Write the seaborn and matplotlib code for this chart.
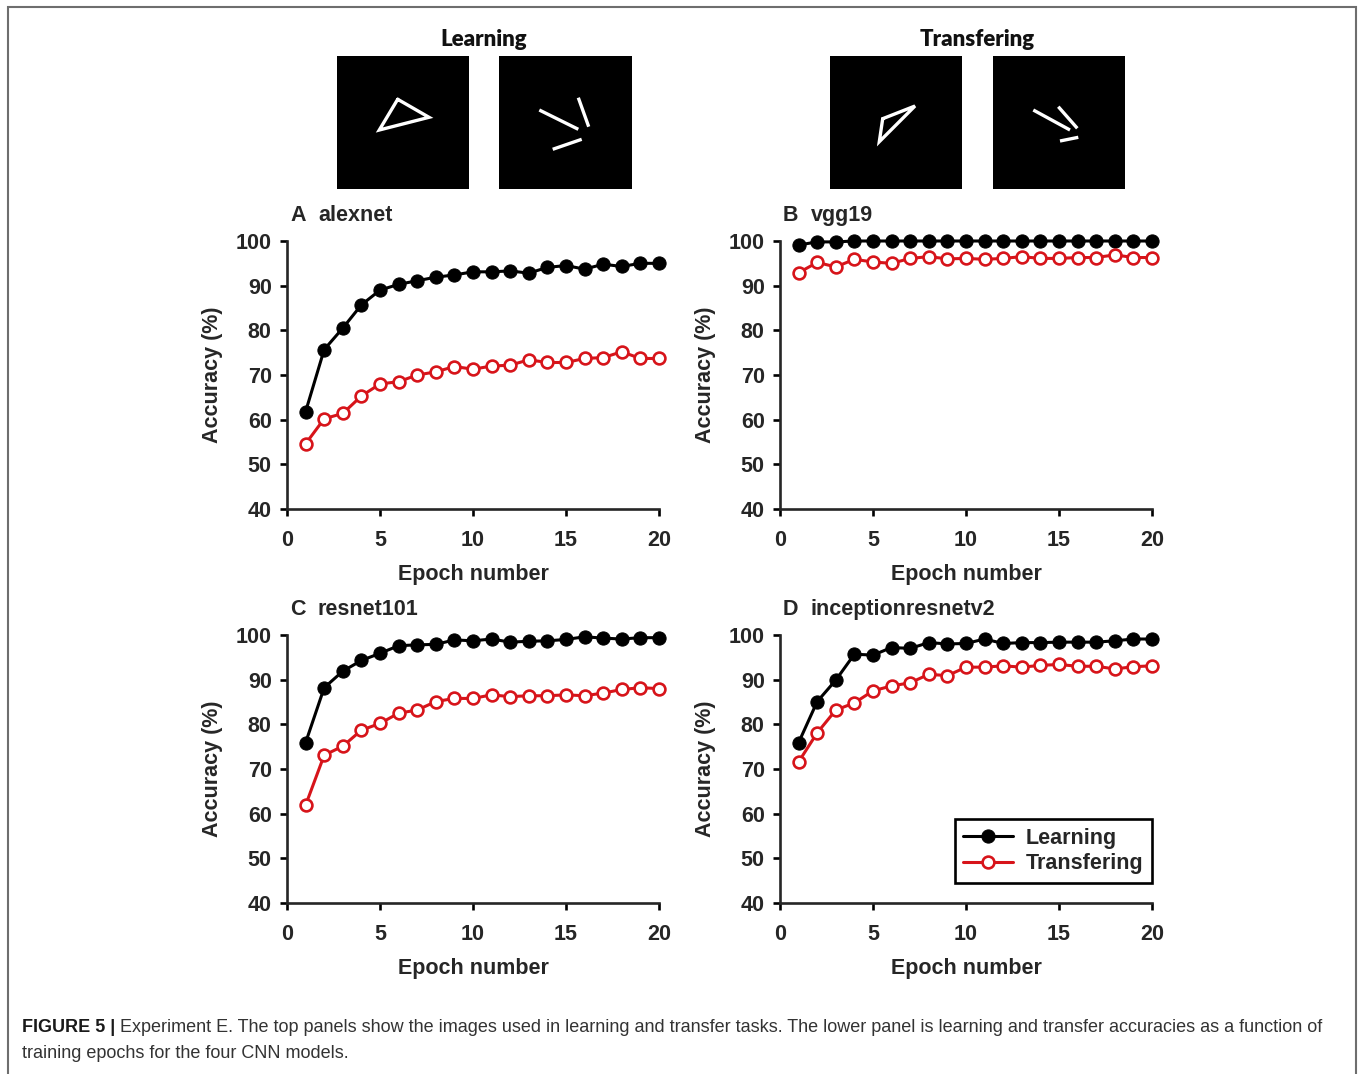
import matplotlib
matplotlib.use('Agg')
import matplotlib.pyplot as plt
import numpy as np
import pandas as pd
import seaborn as sns
from matplotlib.patches import Rectangle

# Data (accuracy in %, per epoch)
epochs = list(range(1, 21))

alexnet_learn = [61.8, 75.7, 80.5, 85.7, 89.0, 90.3, 91.1, 91.9, 92.4, 93.1,
                 93.1, 93.3, 92.8, 94.1, 94.5, 93.7, 94.8, 94.3, 95.0, 95.0]
alexnet_trans = [54.6, 60.2, 61.4, 65.3, 68.0, 68.5, 70.0, 70.7, 71.9, 71.3,
                 72.0, 72.2, 73.4, 72.8, 72.8, 73.7, 73.9, 75.2, 73.7, 73.7]

vgg19_learn = [99.1, 99.8, 99.8, 100, 100, 100, 100, 100, 100, 100,
               100, 100, 100, 100, 100, 100, 100, 100, 100, 100]
vgg19_trans = [92.9, 95.2, 94.2, 95.9, 95.3, 95.0, 96.1, 96.5, 96.0, 96.1,
               95.9, 96.1, 96.5, 96.1, 96.1, 96.3, 96.3, 96.9, 96.3, 96.3]

resnet_learn = [75.9, 88.2, 91.9, 94.3, 95.9, 97.6, 97.8, 97.9, 98.9, 98.7,
                99.1, 98.4, 98.6, 98.7, 99.0, 99.6, 99.3, 99.1, 99.4, 99.4]
resnet_trans = [61.9, 73.1, 75.1, 78.7, 80.2, 82.5, 83.2, 85.1, 85.8, 85.8,
                86.6, 86.2, 86.4, 86.4, 86.6, 86.4, 87.0, 87.8, 88.2, 88.0]

incep_learn = [75.9, 85.1, 89.9, 95.7, 95.5, 97.2, 97.0, 98.3, 98.0, 98.1,
               99.1, 98.1, 98.3, 98.3, 98.4, 98.4, 98.4, 98.7, 99.1, 99.1]
incep_trans = [71.6, 78.1, 83.2, 84.8, 87.5, 88.6, 89.3, 91.2, 90.9, 92.8,
               92.8, 93.1, 92.8, 93.2, 93.4, 93.0, 93.0, 92.4, 92.9, 93.1]

panel_letters = ['A', 'B', 'C', 'D']
panel_names = ['alexnet', 'vgg19', 'resnet101', 'inceptionresnetv2']
series_labels = ['Learning', 'Transfering']

# stimulus sketches (pixel coords inside the black squares)
learn_tri = [(397.7, 99.3), (429, 117.3), (379.3, 130)]
learn_bars = [((539.3, 110), (578.3, 129.3)), ((578.3, 97.7), (588.7, 126.7)),
              ((552.7, 149.3), (581.7, 139.3))]
trans_tri = [(882.7, 118.7), (915, 106), (879.3, 141.7)]
trans_bars = [((1033.3, 110), (1070, 130)), ((1058.3, 106.7), (1077.3, 128.3)),
              ((1060, 141), (1078.3, 137.3))]

W, H = 1360, 1074
sns.set_style('ticks')
plt.rcParams['font.family'] = ['Liberation Sans', 'DejaVu Sans']

fig = plt.figure(figsize=(W / 100, H / 100), dpi=100)


def px_axes(left, top, right, bottom):
    return fig.add_axes([left / W, 1 - bottom / H, (right - left) / W, (bottom - top) / H])


# outer frame
fig.patches.append(Rectangle((8 / W, -0.05), (1356 - 8) / W, 1.05 - 7 / H,
                             transform=fig.transFigure, fill=False,
                             edgecolor='#6e6e6e', lw=1.5, clip_on=False))

# headers and stimulus pictures
for txt, cx in [('Learning', 484), ('Transfering', 977)]:
    fig.text(cx / W, 1 - 40 / H, txt, ha='center', va='center', fontsize=16,
             fontweight='heavy', family=['Lato', 'Liberation Sans'], color='#111111')

boxes = [(337, 469), (499, 632), (830, 962), (993, 1125)]
shapes = [('tri', learn_tri), ('bars', learn_bars), ('tri', trans_tri), ('bars', trans_bars)]
for (l, r), (kind, shp) in zip(boxes, shapes):
    iax = px_axes(l, 56, r, 189)
    iax.set_facecolor('black')
    iax.set_xlim(l, r)
    iax.set_ylim(189, 56)
    iax.set_xticks([])
    iax.set_yticks([])
    for s in iax.spines.values():
        s.set_visible(False)
    if kind == 'tri':
        xs = [p[0] for p in shp] + [shp[0][0]]
        ys = [p[1] for p in shp] + [shp[0][1]]
        iax.plot(xs, ys, color='white', lw=2.4, solid_joinstyle='miter')
    else:
        for a, b in shp:
            iax.plot([a[0], b[0]], [a[1], b[1]], color='white', lw=2.4, solid_capstyle='butt')

# the four accuracy panels
learn_data = [alexnet_learn, vgg19_learn, resnet_learn, incep_learn]
trans_data = [alexnet_trans, vgg19_trans, resnet_trans, incep_trans]
origins = [(287, 241), (780, 241), (287, 635), (780, 635)]
red = '#d7141a'
fs = 15.5

for i, (x0, y0) in enumerate(origins):
    ax = px_axes(x0, y0, x0 + 372, y0 + 268)
    df = pd.DataFrame({'Epoch': epochs, 'Learning': learn_data[i], 'Transfering': trans_data[i]})
    sns.lineplot(data=df, x='Epoch', y='Learning', ax=ax, color='black', lw=2.2,
                 marker='o', markersize=9.5, markeredgecolor='black',
                 markerfacecolor='black', clip_on=False, zorder=3)
    sns.lineplot(data=df, x='Epoch', y='Transfering', ax=ax, color=red, lw=2.2,
                 marker='o', markersize=8.5, markeredgecolor=red, markeredgewidth=1.9,
                 markerfacecolor='white', clip_on=False, zorder=3)
    ax.set_xlim(0, 20)
    ax.set_ylim(40, 100)
    ax.set_xticks([0, 5, 10, 15, 20])
    ax.set_yticks([40, 50, 60, 70, 80, 90, 100])
    sns.despine(ax=ax)
    for s in ['left', 'bottom']:
        ax.spines[s].set_linewidth(1.9)
    ax.tick_params(direction='out', length=5, width=1.9, labelsize=fs, color='black')
    ax.tick_params(axis='x', pad=10)
    ax.tick_params(axis='y', pad=6)
    for lab in ax.get_xticklabels() + ax.get_yticklabels():
        lab.set_fontweight('bold')
    ax.set_xlabel('Epoch number', fontsize=fs, fontweight='bold')
    ax.set_ylabel('Accuracy (%)', fontsize=fs, fontweight='bold')
    ax.xaxis.set_label_coords(0.5, -0.205)
    ax.yaxis.set_label_coords(-0.172, 0.5)
    ax.text(0.008, 1.075, panel_letters[i], transform=ax.transAxes, fontsize=fs,
            fontweight='bold', va='baseline')
    ax.text(0.083, 1.075, panel_names[i], transform=ax.transAxes, fontsize=fs,
            fontweight='bold', va='baseline')
    if i == 3:
        leg = ax.legend(handles=ax.lines[:2], labels=series_labels, loc='lower right',
                        bbox_to_anchor=(1.0, 0.075), borderaxespad=0, fancybox=False,
                        edgecolor='black', framealpha=1, handlelength=2.3,
                        handletextpad=0.6, labelspacing=0.2, borderpad=0.4,
                        prop={'weight': 'bold', 'size': fs})
        leg.get_frame().set_linewidth(1.9)
    elif ax.get_legend() is not None:
        ax.get_legend().remove()

# caption
cap_bold = 'FIGURE 5 |'
cap_line1 = (' Experiment E. The top panels show the images used in learning and transfer tasks. '
             'The lower panel is learning and transfer accuracies as a function of')
cap_line2 = 'training epochs for the four CNN models.'
cap_family = ['Liberation Sans Narrow', 'Liberation Sans']

renderer = fig.canvas.get_renderer()
size = 12
t_b = fig.text(22 / W, 1 - 1028 / H, cap_bold, fontsize=size, fontweight='bold',
               family=cap_family, color='#1a1a1a', va='center')
t_r = fig.text(0, 1 - 1028 / H, cap_line1, fontsize=size, family=cap_family,
               color='#333333', va='center')
wb = t_b.get_window_extent(renderer).width
wr = t_r.get_window_extent(renderer).width
scale = 1300 / (wb + wr)
size = size * scale
t_b.set_fontsize(size)
t_r.set_fontsize(size)
wb = t_b.get_window_extent(renderer).width
t_r.set_x((22 + wb) / W)
fig.text(22 / W, 1 - 1053 / H, cap_line2, fontsize=size, family=cap_family,
         color='#333333', va='center')

fig.savefig('out.png', dpi=100)
